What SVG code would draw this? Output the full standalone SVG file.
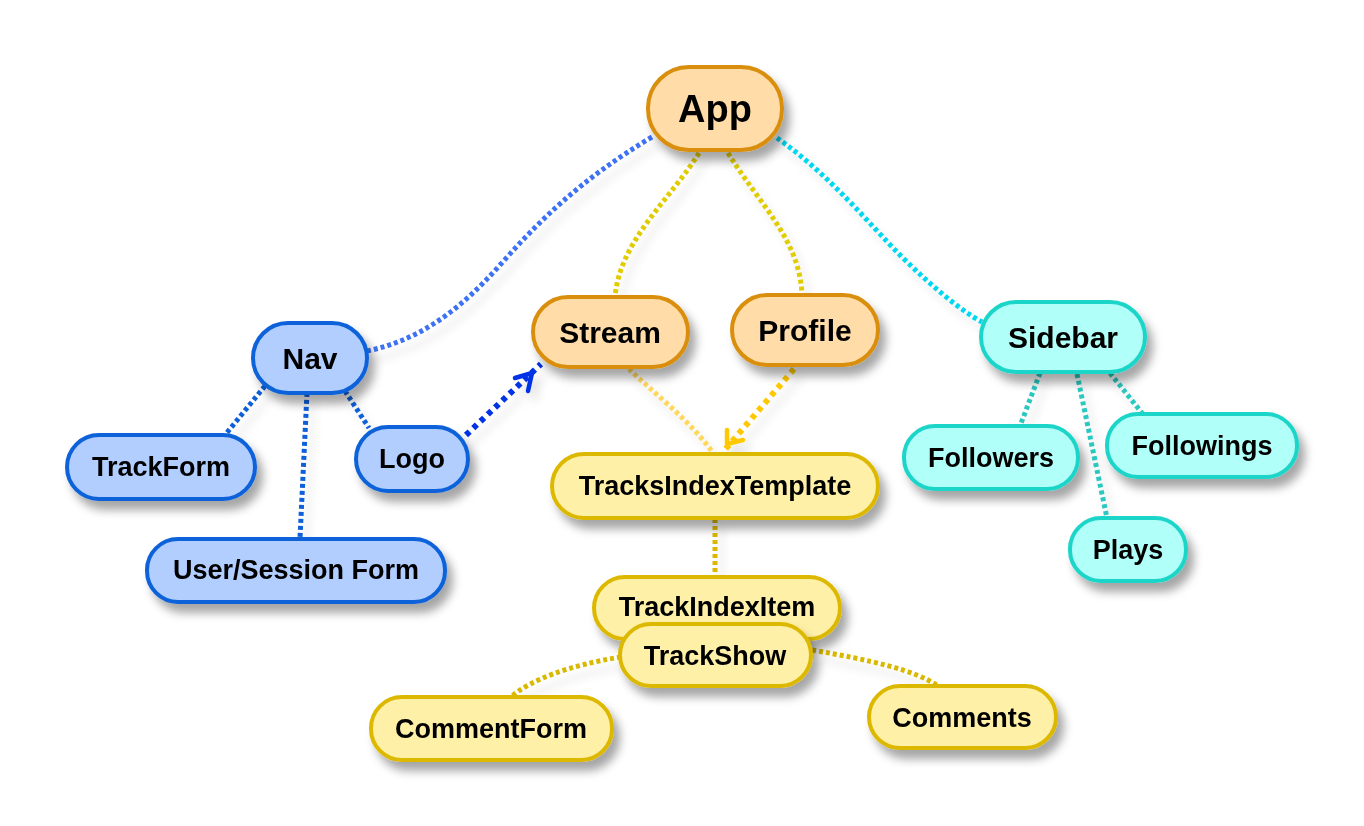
<svg xmlns="http://www.w3.org/2000/svg" width="1364" height="826" viewBox="0 0 1364 826">
<defs>
<filter id="sh" x="-20%" y="-30%" width="150%" height="190%">
<feDropShadow dx="6" dy="9" stdDeviation="5" flood-color="#000" flood-opacity="0.35"/>
</filter>
<filter id="lsh" x="-20%" y="-20%" width="140%" height="140%">
<feDropShadow dx="6" dy="9" stdDeviation="4" flood-color="#000" flood-opacity="0.12"/>
</filter>
</defs>
<style>
.n rect{stroke-width:4}
.n text{font-family:"Liberation Sans",Arial,sans-serif;font-weight:bold;fill:#000;text-anchor:middle;dominant-baseline:central}
.o rect{fill:#FFDCA8;stroke:#D98E0B}
.b rect{fill:#B2CEFF;stroke:#0B62DA}
.c rect{fill:#B0FFF8;stroke:#1DD5C9}
.y rect{fill:#FFF0A8;stroke:#DCB900}
.t1{font-size:30px}
.t2{font-size:27px}
.t0{font-size:38px}
#edges path{fill:none;stroke-width:5;stroke-dasharray:4 3}
#edges path.big{stroke-width:6;stroke-dasharray:5 5}
#edges path.chev{stroke-dasharray:none;stroke-width:4.5;stroke-linecap:round;stroke-linejoin:round}
</style>
<g id="edges" filter="url(#lsh)">
<path d="M652,137 C580,180 540,220 500,265 S420,340 367,351" stroke="#3D72F5"/>
<path d="M699,153 C670,200 620,240 615,297" stroke="#E0CC00"/>
<path d="M728,153 C760,205 800,240 802,295" stroke="#E0CC00"/>
<path d="M777,138 C830,175 870,225 900,255 S960,310 982,322" stroke="#00D8F0"/>
<path d="M629,369 C650,390 690,420 713,453" stroke="#FFD75A"/>
<path class="big" d="M794,369 L723,452" stroke="#FFC800"/>
<path class="chev" d="M727,430 L727,444 L743,440" stroke="#FFC800"/>
<path class="big" d="M466,435 L541,364" stroke="#0033E6"/>
<path class="chev" d="M515,378 L532,373 L528,391" stroke="#0033E6"/>
<path d="M265,386 L225,435" stroke="#1060D8"/>
<path d="M307,393 L300,538" stroke="#1060D8"/>
<path d="M345,391 L369,428" stroke="#1060D8"/>
<path d="M1040,373 L1020,426" stroke="#2CC8C0"/>
<path d="M1077,374 L1107,518" stroke="#2CC8C0"/>
<path d="M1110,373 L1142,413" stroke="#2CC8C0"/>
<path d="M715,519 L715,577" stroke="#D9B800"/>
<path d="M621,657 C570,665 530,680 511,697" stroke="#D9B800"/>
<path d="M812,650 C870,660 915,670 938,686" stroke="#D9B800"/>
</g>
<g id="App" class="n o" filter="url(#sh)"><rect x="648" y="67" width="134" height="83" rx="41"/><text class="t0" x="715" y="109">App</text></g>
<g id="Stream" class="n o" filter="url(#sh)"><rect x="533" y="297" width="155" height="70" rx="35"/><text class="t1" x="610" y="332">Stream</text></g>
<g id="Profile" class="n o" filter="url(#sh)"><rect x="732" y="295" width="146" height="70" rx="35"/><text class="t1" x="805" y="330">Profile</text></g>
<g id="Nav" class="n b" filter="url(#sh)"><rect x="253" y="323" width="114" height="70" rx="35"/><text class="t1" x="310" y="358">Nav</text></g>
<g id="Sidebar" class="n c" filter="url(#sh)"><rect x="981" y="302" width="164" height="70" rx="35"/><text class="t1" x="1063" y="337">Sidebar</text></g>
<g id="TrackForm" class="n b" filter="url(#sh)"><rect x="67" y="435" width="188" height="64" rx="32"/><text class="t2" x="161" y="467">TrackForm</text></g>
<g id="Logo" class="n b" filter="url(#sh)"><rect x="356" y="427" width="112" height="64" rx="32"/><text class="t2" x="412" y="459">Logo</text></g>
<g id="UserSessionForm" class="n b" filter="url(#sh)"><rect x="147" y="539" width="298" height="63" rx="31"/><text class="t2" x="296" y="570">User/Session Form</text></g>
<g id="TracksIndexTemplate" class="n y" filter="url(#sh)"><rect x="552" y="454" width="326" height="64" rx="32"/><text class="t2" x="715" y="486">TracksIndexTemplate</text></g>
<g id="Followers" class="n c" filter="url(#sh)"><rect x="904" y="426" width="174" height="63" rx="31"/><text class="t2" x="991" y="458">Followers</text></g>
<g id="Followings" class="n c" filter="url(#sh)"><rect x="1107" y="414" width="190" height="63" rx="31"/><text class="t2" x="1202" y="446">Followings</text></g>
<g id="Plays" class="n c" filter="url(#sh)"><rect x="1070" y="518" width="116" height="63" rx="31"/><text class="t2" x="1128" y="550">Plays</text></g>
<g id="TrackIndexItem" class="n y" filter="url(#sh)"><rect x="594" y="577" width="246" height="62" rx="31"/><text class="t2" x="717" y="607">TrackIndexItem</text></g>
<g id="TrackShow" class="n y" filter="url(#sh)"><rect x="620" y="624" width="191" height="62" rx="31"/><text class="t2" x="715" y="656">TrackShow</text></g>
<g id="CommentForm" class="n y" filter="url(#sh)"><rect x="371" y="697" width="241" height="63" rx="31"/><text class="t2" x="491" y="729">CommentForm</text></g>
<g id="Comments" class="n y" filter="url(#sh)"><rect x="869" y="686" width="187" height="62" rx="31"/><text class="t2" x="962" y="718">Comments</text></g>
</svg>
